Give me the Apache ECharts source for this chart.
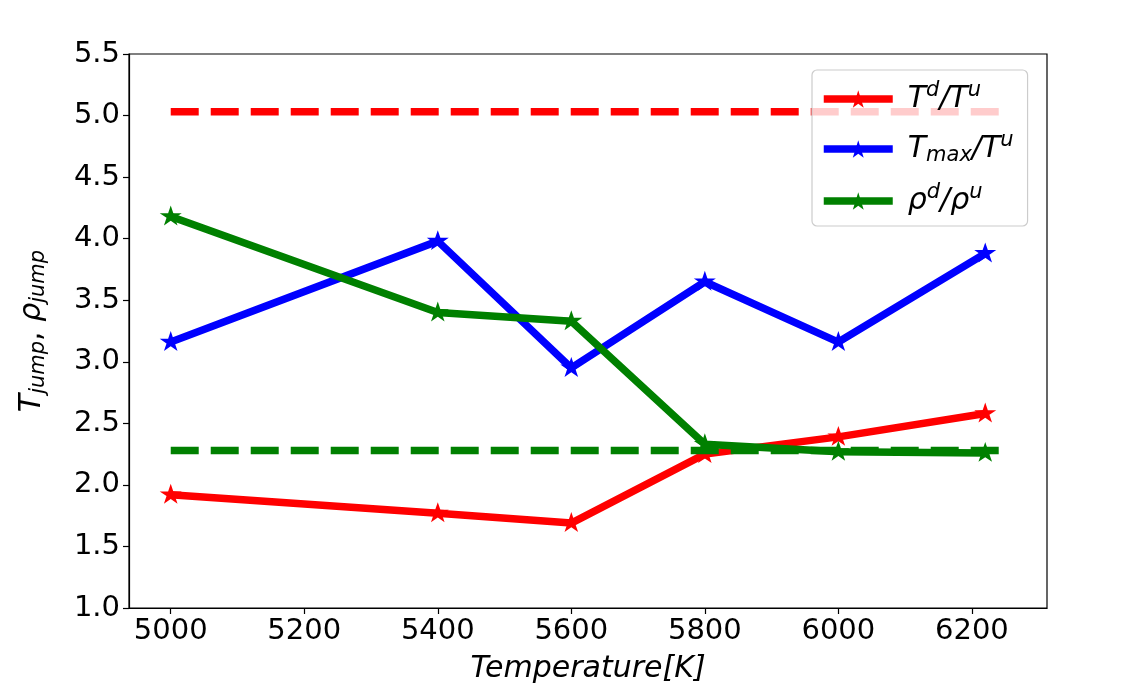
<!DOCTYPE html>
<html><head><meta charset="utf-8">
<script src="https://cdn.jsdelivr.net/npm/echarts@6/dist/echarts.min.js"></script>
<style>html,body{margin:0;padding:0;background:#fff}#c{width:1136px;height:694px}</style>
</head><body><div id="c"></div>
<script>
const temps = [5000, 5400, 5600, 5800, 6000, 6220];
const tRatio = [1.92, 1.77, 1.69, 2.25, 2.39, 2.58];
const tmaxRatio = [3.16, 3.98, 2.95, 3.65, 3.16, 3.88];
const rhoRatio = [4.18, 3.40, 3.33, 2.33, 2.27, 2.26];
const refX = [5000, 6250];
const tRef = [5.03, 5.03];
const rhoRef = [2.28, 2.28];
const xTicks = [5000, 5200, 5400, 5600, 5800, 6000, 6200];
const yTicks = [1.0, 1.5, 2.0, 2.5, 3.0, 3.5, 4.0, 4.5, 5.0, 5.5];
const seriesNames = ['Td/Tu', 'Tmax/Tu', 'rhod/rhou'];
const legendLabels = {
  'Td/Tu': '{i|T}{sup|d}{i|/T}{sup|u}',
  'Tmax/Tu': '{i|T}{sub|max}{i|/T}{sup|u}',
  'rhod/rhou': '{i|ρ}{sup|d}{i|/ρ}{sup|u}'
};

const FONT = 'DejaVu Sans';
const STAR = 'path://M100,0 L122.45,69.1 L195.1,69.1 L136.3,111.8 L158.8,180.9 L100,138.2 L41.2,180.9 L63.7,111.8 L4.9,69.1 L77.55,69.1 Z';
const richMath = {
  i: {fontFamily: FONT, fontStyle: 'italic', fontSize: 30, color: '#000'},
  sup: {fontFamily: FONT, fontStyle: 'italic', fontSize: 21, color: '#000', padding: [0, 0, 17, 0]},
  sub: {fontFamily: FONT, fontStyle: 'italic', fontSize: 21, color: '#000', padding: [13, 0, 0, 0]},
  r: {fontFamily: FONT, fontSize: 30, color: '#000'}
};

function pairs(xs, ys) { return xs.map((x, k) => [x, ys[k]]); }

function solid(name, color, ys) {
  return {
    name: name, type: 'line', data: pairs(temps, ys),
    symbol: STAR, symbolSize: [22, 21], symbolKeepAspect: true, symbolOffset: [0, -1],
    lineStyle: {color: color, width: 7.5}, itemStyle: {color: color},
    z: 2, animation: false
  };
}
function dashed(color, ys) {
  return {
    type: 'line', data: pairs(refX, ys), symbol: 'none',
    lineStyle: {color: color, width: 7.5, type: [28, 12], cap: 'butt'},
    itemStyle: {color: color}, z: 3, animation: false, silent: true
  };
}

const chart = echarts.init(document.getElementById('c'), null, {renderer: 'canvas'});
chart.setOption({
  backgroundColor: '#fff',
  animation: false,
  grid: {left: 129, right: 89, top: 54, bottom: 86, show: true, borderColor: '#000', borderWidth: 1.2, backgroundColor: 'transparent'},
  xAxis: {
    type: 'value', min: 4937.5, max: 6312.5,
    name: 'Temperature[K]', nameLocation: 'middle', nameGap: 46,
    nameTextStyle: {fontFamily: FONT, fontStyle: 'italic', fontSize: 30, color: '#000'},
    axisLine: {show: true, onZero: false, lineStyle: {color: '#000', width: 1.2}},
    axisTick: {show: true, length: 6, customValues: xTicks, lineStyle: {color: '#000', width: 1.2}},
    axisLabel: {customValues: xTicks, formatter: v => String(v), fontFamily: FONT, fontSize: 29, color: '#000', margin: 9},
    splitLine: {show: false}
  },
  yAxis: {
    type: 'value', min: 1.0, max: 5.5, interval: 0.5,
    name: '{i|T}{sub|jump}{r|, }{i|ρ}{sub|jump}', nameLocation: 'middle', nameGap: 80, nameRotate: 90,
    nameTextStyle: {rich: richMath},
    axisLine: {show: true, onZero: false, lineStyle: {color: '#000', width: 1.2}},
    axisTick: {show: true, length: 6, lineStyle: {color: '#000', width: 1.2}},
    axisLabel: {customValues: yTicks, formatter: v => v.toFixed(1), fontFamily: FONT, fontSize: 29, color: '#000', margin: 9},
    splitLine: {show: false}
  },
  legend: {
    data: seriesNames, orient: 'vertical', left: 812, top: 70,
    backgroundColor: 'rgba(255,255,255,0.8)', borderColor: '#cccccc', borderWidth: 1.2, borderRadius: 5,
    padding: [10, 14, 10, 8], itemGap: 16, itemWidth: 69, itemHeight: 22,
    lineStyle: {width: 7.5},
    formatter: n => legendLabels[n],
    textStyle: {rich: richMath, padding: [0, 0, 0, 10]}
  },
  series: [
    solid(seriesNames[0], '#ff0000', tRatio),
    solid(seriesNames[1], '#0000ff', tmaxRatio),
    solid(seriesNames[2], '#008000', rhoRatio),
    dashed('#ff0000', tRef),
    dashed('#008000', rhoRef)
  ]
});
</script></body></html>
